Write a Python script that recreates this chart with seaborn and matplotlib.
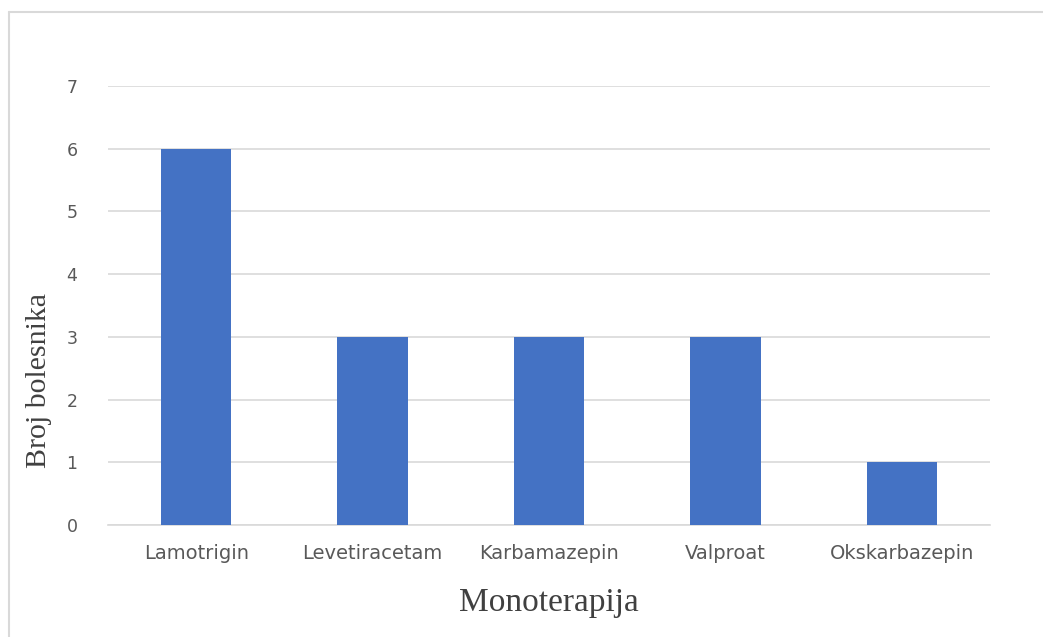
import matplotlib
matplotlib.use('Agg')
import matplotlib.pyplot as plt
import pandas as pd
import seaborn as sns
from matplotlib.lines import Line2D

# data
drugs = ['Lamotrigin', 'Levetiracetam', 'Karbamazepin', 'Valproat', 'Okskarbazepin']
patients = [6, 3, 3, 3, 1]
y_ticks = [0, 1, 2, 3, 4, 5, 6, 7]

BAR_COLOR = '#4472C4'
GRID_COLOR = '#D9D9D9'
TICK_COLOR = '#595959'

sns.set_style('white')
plt.rcParams['font.family'] = ['DejaVu Sans']

df = pd.DataFrame({'drug': drugs, 'count': patients})

fig = plt.figure(figsize=(10.43, 6.37), dpi=100)
ax = fig.add_axes([108 / 1043, 1 - 525 / 637, (990 - 108) / 1043, (525 - 86) / 637])

sns.barplot(data=df, x='drug', y='count', color=BAR_COLOR, width=0.4,
            saturation=1, linewidth=0, ax=ax, zorder=3)

ax.set_ylim(0, 7)
ax.set_yticks(y_ticks)
ax.set_xlim(-0.5, len(drugs) - 0.5)
ax.grid(True, axis='y', color=GRID_COLOR, linewidth=1.2, zorder=0)
ax.set_axisbelow(True)
for side in ['top', 'right', 'left']:
    ax.spines[side].set_visible(False)
ax.spines['bottom'].set_color(GRID_COLOR)
ax.spines['bottom'].set_linewidth(1.2)

ax.tick_params(axis='both', length=0, colors=TICK_COLOR)
ax.tick_params(axis='y', pad=22, labelsize=12.5)
ax.tick_params(axis='x', pad=14, labelsize=14)

ax.set_xlabel('Monoterapija', family='Liberation Serif', fontsize=24,
              color='#404040', labelpad=17)
ax.set_ylabel('Broj bolesnika', family='Liberation Serif', fontsize=21.5,
              color='#404040')
# the y label sits below the axis centre in the reference
ax.yaxis.set_label_coords(-0.064, 0.33)

# outer chart frame (left and top edges visible in the reference)
fig.add_artist(Line2D([9 / 1043, 9 / 1043], [0, 1 - 12 / 637],
                      transform=fig.transFigure, color=GRID_COLOR, linewidth=1.5))
fig.add_artist(Line2D([9 / 1043, 1], [1 - 12 / 637, 1 - 12 / 637],
                      transform=fig.transFigure, color=GRID_COLOR, linewidth=1.5))

fig.savefig('out.png', dpi=100)
